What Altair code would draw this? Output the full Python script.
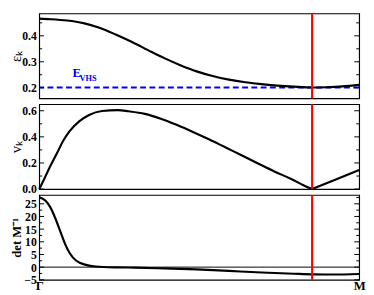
import altair as alt
import pandas as pd

# ---------------- data ----------------
# panel 1: band energy eps_k along Gamma -> M
x_eps = [0.0, 0.036, 0.087, 0.138, 0.188, 0.239, 0.290, 0.340, 0.391, 0.441, 0.492,
         0.542, 0.593, 0.644, 0.694, 0.745, 0.796, 0.853, 0.897, 0.948, 1.0]
eps_k = [0.466, 0.464, 0.459, 0.449, 0.431, 0.405, 0.376, 0.345, 0.314, 0.287, 0.263,
         0.245, 0.231, 0.221, 0.214, 0.208, 0.204, 0.201, 0.202, 0.205, 0.211]
e_vhs = 0.201

# panel 2: velocity v_k
x_v = [0.0, 0.015, 0.034, 0.055, 0.075, 0.095, 0.125, 0.156, 0.196, 0.246, 0.279,
       0.330, 0.380, 0.431, 0.482, 0.532, 0.583, 0.634, 0.684, 0.735, 0.786, 0.826,
       0.853, 0.927, 1.0]
v_k = [0.0, 0.074, 0.173, 0.272, 0.370, 0.444, 0.519, 0.568, 0.598, 0.605, 0.596,
       0.576, 0.539, 0.490, 0.436, 0.380, 0.318, 0.257, 0.196, 0.135, 0.079, 0.030,
       0.0, 0.074, 0.147]

# panel 3: det M^-1
x_det = [0.0, 0.019, 0.034, 0.050, 0.065, 0.080, 0.095, 0.116, 0.146, 0.176, 0.246,
         0.298, 0.392, 0.492, 0.593, 0.696, 0.796, 0.853, 0.918, 1.0]
det_m = [27.6, 26.3, 23.8, 19.4, 14.4, 9.4, 5.6, 2.5, 0.9, 0.26, -0.1,
         -0.2, -0.5, -0.9, -1.5, -2.1, -2.6, -2.85, -2.9, -2.7]

# VHS position (red line)
x_vhs = 0.853

# axis ranges and ticks
dom1 = [0.159, 0.486]
major1 = [0.2, 0.3, 0.4]
minor1 = [0.25, 0.35, 0.45]
dom2 = [0.0, 0.65]
major2 = [0.0, 0.2, 0.4, 0.6]
minor2 = [0.1, 0.3, 0.5]
dom3 = [-5.0, 28.5]
major3 = [-5, 0, 5, 10, 15, 20, 25]
minor3 = [-2.5, 2.5, 7.5, 12.5, 17.5, 22.5, 27.5]

# E_VHS label (data coordinates)
lab_x = [0.104, 0.126]
lab_y = [0.243, 0.227]
lab_t = ["E", "VHS"]
lab_s = [13, 8.5]

# ---------------- layout / style ----------------
W = 328
H1, H2, H3 = 87, 87, 87
SERIF = "Liberation Serif"
MAJ, MIN = 5, 3
TX = -19

xscale = alt.Scale(domain=[0, 1], nice=False, zero=False)


def yaxis(values, title, weight, size, fmt):
    return alt.Axis(values=values, ticks=False, domain=False, grid=False,
                    labelFont=SERIF, labelFontSize=12, labelFontWeight="bold",
                    labelColor="black", labelPadding=3, labelFlush=False,
                    labelOverlap=False, format=fmt,
                    title=title, titleFont=SERIF, titleFontSize=size,
                    titleFontWeight=weight, titleColor="black",
                    titleX=TX, titleAngle=270, titleBaseline="alphabetic")


def ticks_layers(major, minor, yscale, yax):
    layers = []
    for vals, L in ((major, MAJ), (minor, MIN)):
        d = pd.DataFrame({"y": vals})
        left = alt.Chart(d).mark_rule(color="black", strokeWidth=1).encode(
            y=alt.Y("y:Q", scale=yscale, axis=yax),
            x=alt.value(0), x2=alt.value(L))
        right = alt.Chart(d).mark_rule(color="black", strokeWidth=1).encode(
            y=alt.Y("y:Q", scale=yscale, axis=yax),
            x=alt.value(W - L), x2=alt.value(W))
        layers += [left, right]
    return layers


def red_rule(xax=None):
    return alt.Chart(pd.DataFrame({"x": [x_vhs]})).mark_rule(
        color="#ff0000", strokeWidth=2.2).encode(
        x=alt.X("x:Q", scale=xscale, axis=xax))


# ---- panel 1 ----
ys1 = alt.Scale(domain=dom1, nice=False, zero=False)
ya1 = yaxis(major1, "εₖ", "normal", 15, ".1f")
df1 = pd.DataFrame({"x": x_eps, "y": eps_k})
line1 = alt.Chart(df1).mark_line(color="black", strokeWidth=2.2,
                                 interpolate="monotone").encode(
    x=alt.X("x:Q", scale=xscale, axis=None),
    y=alt.Y("y:Q", scale=ys1, axis=ya1))
vhs = alt.Chart(pd.DataFrame({"y": [e_vhs]})).mark_rule(
    color="#0000ff", strokeWidth=2, strokeDash=[6, 3.5]).encode(
    y=alt.Y("y:Q", scale=ys1, axis=ya1))
labdf = pd.DataFrame({"x": lab_x, "y": lab_y, "t": lab_t, "s": lab_s})
lab = alt.Chart(labdf).mark_text(color="#0000ff", font=SERIF, fontWeight="bold",
                                 align="left", baseline="alphabetic").encode(
    x=alt.X("x:Q", scale=xscale, axis=None),
    y=alt.Y("y:Q", scale=ys1, axis=ya1),
    text="t:N",
    size=alt.Size("s:Q", scale=None, legend=None))
p1 = alt.layer(vhs, line1, red_rule(), lab,
               *ticks_layers(major1, minor1, ys1, ya1)).properties(width=W, height=H1)

# ---- panel 2 ----
ys2 = alt.Scale(domain=dom2, nice=False, zero=False)
ya2 = yaxis(major2, "vₖ", "normal", 15, ".1f")
icusp = x_v.index(x_vhs)
df2 = pd.concat([
    pd.DataFrame({"x": x_v[:icusp + 1], "y": v_k[:icusp + 1], "seg": "a"}),
    pd.DataFrame({"x": x_v[icusp:], "y": v_k[icusp:], "seg": "b"}),
])
line2 = alt.Chart(df2).mark_line(color="black", strokeWidth=2.2,
                                 interpolate="monotone").encode(
    x=alt.X("x:Q", scale=xscale, axis=None),
    y=alt.Y("y:Q", scale=ys2, axis=ya2),
    detail="seg:N")
p2 = alt.layer(line2, red_rule(),
               *ticks_layers(major2, minor2, ys2, ya2)).properties(width=W, height=H2)

# ---- panel 3 ----
ys3 = alt.Scale(domain=dom3, nice=False, zero=False)
ya3 = yaxis(major3, "det M⁻¹", "bold", 13, "d")
xaxis3 = alt.Axis(values=[0, 1], labelExpr="datum.value == 0 ? 'Γ' : 'M'",
                  ticks=False, domain=False, grid=False, labelFont=SERIF,
                  labelFontSize=13, labelFontWeight="bold", labelColor="black",
                  labelPadding=0, labelFlush=False, labelOverlap=False, title=None)
df3 = pd.DataFrame({"x": x_det, "y": det_m})
zero = alt.Chart(pd.DataFrame({"y": [0]})).mark_rule(
    color="black", strokeWidth=1).encode(y=alt.Y("y:Q", scale=ys3, axis=ya3))
line3 = alt.Chart(df3).mark_line(color="black", strokeWidth=2.2,
                                 interpolate="monotone").encode(
    x=alt.X("x:Q", scale=xscale, axis=xaxis3),
    y=alt.Y("y:Q", scale=ys3, axis=ya3))
p3 = alt.layer(zero, line3, red_rule(xaxis3),
               *ticks_layers(major3, minor3, ys3, ya3)).properties(width=W, height=H3)

chart = alt.vconcat(p1, p2, p3, spacing=6, bounds="flush").properties(
    padding={"left": 0, "top": 0, "right": 0, "bottom": 0}
).configure_view(stroke="black", strokeWidth=1.2)

chart.save("out.html", embed_options={"renderer": "svg", "actions": False})
